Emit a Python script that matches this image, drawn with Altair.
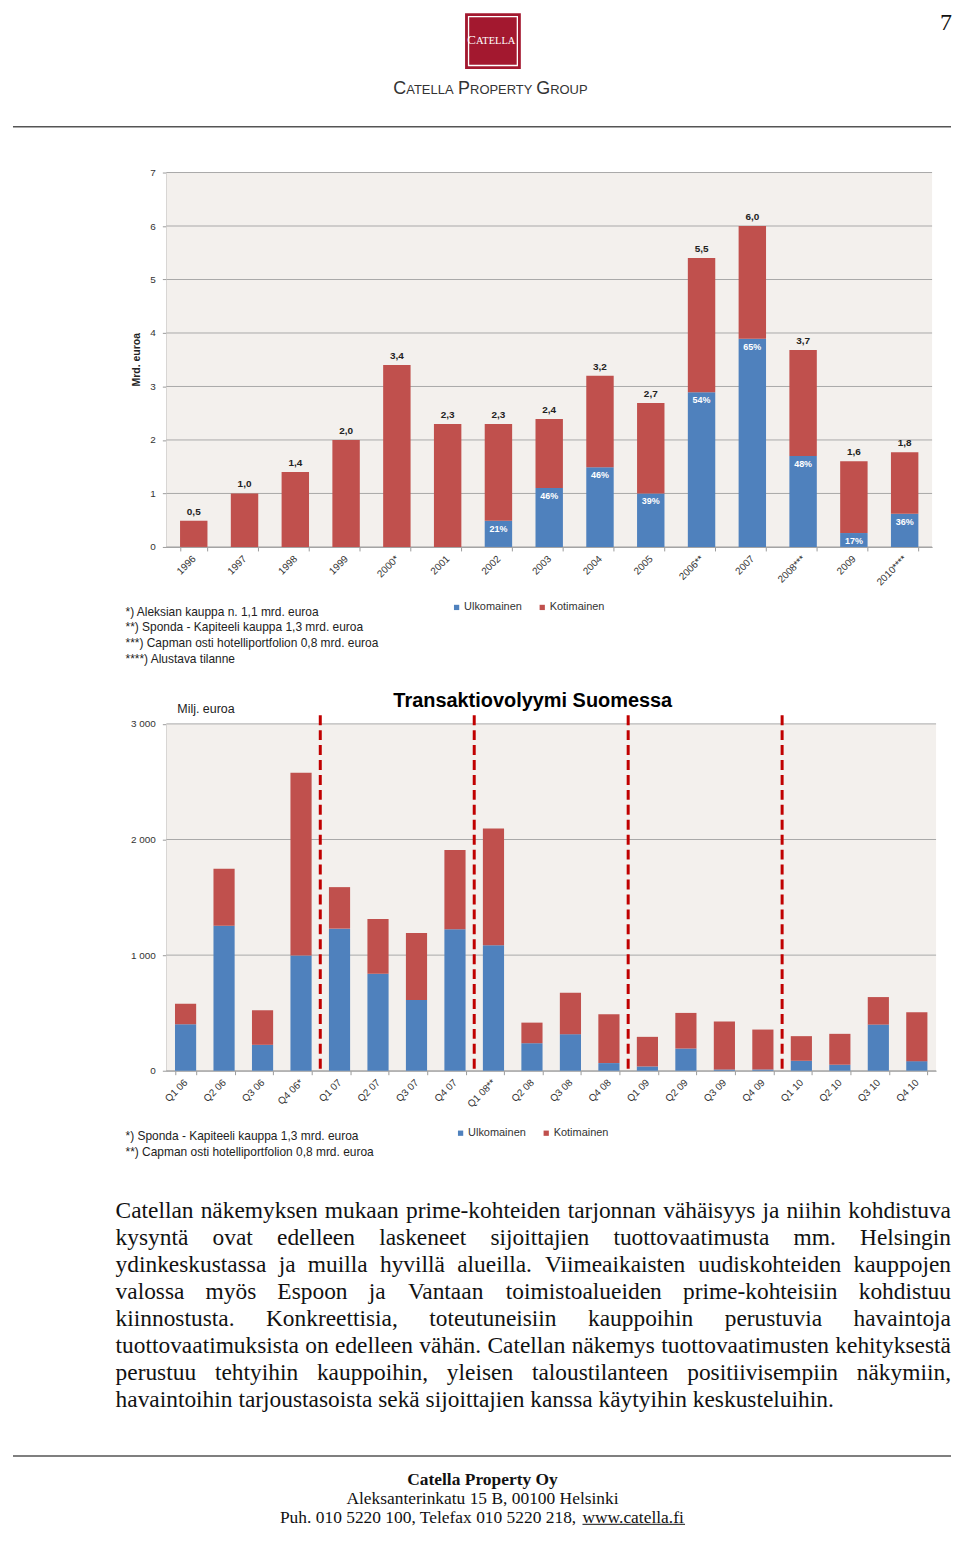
import altair as alt
import pandas as pd

# ---------------- data ----------------
series = ["Ulkomainen", "Kotimainen"]

years = ["1996", "1997", "1998", "1999", "2000*", "2001", "2002", "2003", "2004",
         "2005", "2006**", "2007", "2008***", "2009", "2010****"]
year_total = [0.49, 1.0, 1.40, 2.0, 3.40, 2.30, 2.30, 2.39, 3.20, 2.69, 5.40, 6.0, 3.68, 1.60, 1.77]
year_foreign = [0, 0, 0, 0, 0, 0, 0.49, 1.10, 1.49, 1.0, 2.89, 3.89, 1.70, 0.26, 0.62]
year_total_labels = ["0,5", "1,0", "1,4", "2,0", "3,4", "2,3", "2,3", "2,4", "3,2", "2,7",
                     "5,5", "6,0", "3,7", "1,6", "1,8"]
year_share_labels = ["", "", "", "", "", "", "21%", "46%", "46%", "39%", "54%", "65%",
                     "48%", "17%", "36%"]
year_ticks = [0, 1, 2, 3, 4, 5, 6, 7]

quarters = ["Q1 06", "Q2 06", "Q3 06", "Q4 06*", "Q1 07", "Q2 07", "Q3 07", "Q4 07",
            "Q1 08**", "Q2 08", "Q3 08", "Q4 08", "Q1 09", "Q2 09", "Q3 09", "Q4 09",
            "Q1 10", "Q2 10", "Q3 10", "Q4 10"]
quarter_total = [580, 1746, 523, 2578, 1588, 1312, 1191, 1909, 2096, 416, 675, 488,
                 293, 500, 425, 356, 299, 319, 637, 505]
quarter_foreign = [402, 1255, 224, 996, 1229, 838, 612, 1223, 1085, 238, 316, 66,
                   37, 192, 11, 11, 86, 52, 399, 83]
quarter_ticks = [0, 1000, 2000, 3000]
year_breaks = [4, 8, 12, 16]  # quarter index where a new year starts

notes1 = ["*) Aleksian kauppa n. 1,1 mrd. euroa",
          "**) Sponda - Kapiteeli kauppa 1,3 mrd. euroa",
          "***) Capman osti hotelliportfolion 0,8 mrd. euroa",
          "****) Alustava tilanne"]
notes2 = ["*) Sponda - Kapiteeli kauppa 1,3 mrd. euroa",
          "**) Capman osti hotelliportfolion 0,8 mrd. euroa"]

body_lines = [
    "Catellan näkemyksen mukaan prime-kohteiden tarjonnan vähäisyys ja niihin kohdistuva",
    "kysyntä ovat edelleen laskeneet sijoittajien tuottovaatimusta mm. Helsingin",
    "ydinkeskustassa ja muilla hyvillä alueilla. Viimeaikaisten uudiskohteiden kauppojen",
    "valossa myös Espoon ja Vantaan toimistoalueiden prime-kohteisiin kohdistuu",
    "kiinnostusta. Konkreettisia, toteutuneisiin kauppoihin perustuvia havaintoja",
    "tuottovaatimuksista on edelleen vähän. Catellan näkemys tuottovaatimusten kehityksestä",
    "perustuu tehtyihin kauppoihin, yleisen taloustilanteen positiivisempiin näkymiin,",
    "havaintoihin tarjoustasoista sekä sijoittajien kanssa käytyihin keskusteluihin.",
]
footer_name = "Catella Property Oy"
footer_addr = "Aleksanterinkatu 15 B, 00100 Helsinki"
footer_phone = "Puh. 010 5220 100, Telefax 010 5220 218, "
footer_url = "www.catella.fi"

# ---------------- styles ----------------
SANS = "Liberation Sans"
SERIF = "Liberation Serif"
BLUE = "#4f81bd"
RED = "#c0504d"
BG = "#f3f0ed"
GRID = "#a8a8a8"
AXIS = "#9a9a9a"
LOGO = "#a3182f"
W = 944
HA, HB, HC, HD = 120, 547, 495, 357

TIMES = {' ': 250, 'a': 444, 'b': 500, 'c': 444, 'd': 500, 'e': 444, 'f': 333, 'g': 500,
         'h': 500, 'i': 278, 'j': 278, 'k': 500, 'l': 278, 'm': 778, 'n': 500, 'o': 500,
         'p': 500, 'q': 500, 'r': 333, 's': 389, 't': 278, 'u': 500, 'v': 500, 'w': 722,
         'x': 500, 'y': 500, 'z': 444, 'ä': 444, 'ö': 500, 'A': 722, 'B': 667, 'C': 667,
         'D': 722, 'E': 611, 'F': 556, 'G': 722, 'H': 722, 'I': 333, 'J': 389, 'K': 722,
         'L': 611, 'M': 889, 'N': 722, 'O': 722, 'P': 556, 'R': 667, 'S': 556, 'T': 611,
         'U': 722, 'V': 722, 'W': 944, 'Y': 722, '.': 250, ',': 250, '-': 333}
ARIAL_CAPS = {' ': 278, 'A': 667, 'C': 722, 'E': 667, 'G': 778, 'L': 556, 'O': 778,
              'P': 667, 'R': 722, 'T': 611, 'U': 722, 'Y': 667}


def tw(s, table, fs):
    return sum(table.get(ch, 500) for ch in s) * fs / 1000.0


one = pd.DataFrame({"k": [0]})


def txt(text, x, y, size, font=SANS, weight="normal", color="#222", align="left",
        baseline="middle", angle=0):
    return alt.Chart(one).mark_text(
        text=text, font=font, fontSize=size, fontWeight=weight, color=color,
        align=align, baseline=baseline, angle=angle
    ).encode(x=alt.value(x), y=alt.value(y))


def legend_at(x, y):
    return alt.Legend(orient="none", legendX=x, legendY=y, direction="horizontal",
                      title=None, symbolType="square", symbolSize=28, symbolStrokeWidth=0,
                      labelFont=SANS, labelFontSize=11, labelColor="#333",
                      labelOffset=2, columnPadding=14, padding=0)


color_scale = alt.Scale(domain=series, range=[BLUE, RED])

# ---------------- panel A: header ----------------
caps_pieces = [("C", 18), ("ATELLA", 13), (" ", 13), ("P", 18), ("ROPERTY", 13),
               (" ", 13), ("G", 18), ("ROUP", 13)]
tot_w = sum(tw(p, ARIAL_CAPS, f) for p, f in caps_pieces)
cx = 480.5 - tot_w / 2
cap_rows = []
for p, f in caps_pieces:
    cap_rows.append({"p": p, "fs": f, "x": cx})
    cx += tw(p, ARIAL_CAPS, f)
caps_df = pd.DataFrame(cap_rows)

logo_pieces = [("C", 13), ("ATELLA", 10.5)]
lw = sum(tw(p, TIMES, f) for p, f in logo_pieces)
lx = 482 - lw / 2
logo_rows = []
for p, f in logo_pieces:
    logo_rows.append({"p": p, "fs": f, "x": lx})
    lx += tw(p, TIMES, f)
logo_df = pd.DataFrame(logo_rows)

panelA = alt.layer(
    alt.Chart(one).mark_rect(color=LOGO).encode(
        x=alt.value(455), x2=alt.value(511), y=alt.value(0), y2=alt.value(56)),
    alt.Chart(one).mark_rect(filled=False, stroke="white", strokeWidth=1.3).encode(
        x=alt.value(458.5), x2=alt.value(507.5), y=alt.value(3.5), y2=alt.value(52.5)),
    alt.Chart(logo_df).mark_text(font=SERIF, color="white", align="left",
                                 baseline="alphabetic").encode(
        x=alt.X("x:Q", scale=None, axis=None), y=alt.value(31),
        size=alt.Size("fs:Q", scale=None, legend=None), text="p:N"),
    alt.Chart(caps_df).mark_text(font=SANS, color="#333", align="left",
                                 baseline="alphabetic").encode(
        x=alt.X("x:Q", scale=None, axis=None), y=alt.value(81),
        size=alt.Size("fs:Q", scale=None, legend=None), text="p:N"),
    txt("7", 944, 17, 24, font=SERIF, color="#111", align="right", baseline="alphabetic"),
    alt.Chart(one).mark_rule(color="#555", strokeWidth=1.5).encode(
        x=alt.value(1), x2=alt.value(943), y=alt.value(114)),
).properties(width=W, height=HA)

# ---------------- panel B: yearly chart ----------------
rows1 = []
for yr, tot, fo in zip(years, year_total, year_foreign):
    rows1.append({"year": yr, "series": "Ulkomainen", "lo": 0, "hi": fo})
    rows1.append({"year": yr, "series": "Kotimainen", "lo": fo, "hi": tot})
df1 = pd.DataFrame(rows1)
lab1 = pd.DataFrame({"year": years, "total": year_total, "foreign": year_foreign,
                     "tl": year_total_labels, "sl": year_share_labels})
share1 = lab1[lab1["sl"] != ""]

B_TOP, B_BOT, B_L, B_R = 40, 416, 155, 924
x1 = alt.Scale(domain=years, range=[B_L, B_R], paddingInner=0.46, paddingOuter=0.27)
y1 = alt.Scale(domain=[0, 7], range=[B_BOT, B_TOP], nice=False)

x1_axis = alt.Axis(orient="bottom", offset=-(HB - B_BOT), title=None, labelAngle=315,
                   labelAlign="right", labelBaseline="middle", labelFont=SANS,
                   labelFontSize=10, labelColor="#333", labelPadding=6, tickBand="extent",
                   tickSize=4, tickColor=AXIS, domainColor=AXIS, grid=False,
                   labelOverlap=False)
y1_axis = alt.Axis(orient="left", offset=-B_L, values=year_ticks, title=None, grid=False,
                   labelFont=SANS, labelFontSize=10, labelColor="#333", tickSize=4,
                   tickColor=AXIS, domainColor=AXIS, domainWidth=1.5, labelPadding=7)

panelB = alt.layer(
    alt.Chart(one).mark_rect(color=BG).encode(
        x=alt.value(B_L), x2=alt.value(B_R), y=alt.value(B_TOP), y2=alt.value(B_BOT)),
    alt.Chart(pd.DataFrame({"v": year_ticks})).mark_rule(color=GRID, strokeWidth=1).encode(
        y=alt.Y("v:Q", scale=y1, axis=y1_axis), x=alt.value(B_L), x2=alt.value(B_R)),
    alt.Chart(df1).mark_bar().encode(
        x=alt.X("year:N", scale=x1, axis=x1_axis),
        y=alt.Y("hi:Q", scale=y1, axis=y1_axis), y2="lo:Q",
        color=alt.Color("series:N", scale=color_scale, legend=legend_at(441, 471))),
    alt.Chart(lab1).mark_text(font=SANS, fontSize=10, fontWeight="bold", color="#222",
                              baseline="middle", dy=-9).encode(
        x=alt.X("year:N", scale=x1, axis=x1_axis), y=alt.Y("total:Q", scale=y1, axis=y1_axis),
        text="tl:N"),
    alt.Chart(share1).mark_text(font=SANS, fontSize=9, fontWeight="bold", color="white",
                                baseline="middle", dy=8).encode(
        x=alt.X("year:N", scale=x1, axis=x1_axis), y=alt.Y("foreign:Q", scale=y1, axis=y1_axis),
        text="sl:N"),
    txt("Mrd. euroa", 126, 228, 10.5, weight="bold", color="#222", align="center",
        angle=270),
    *[txt(n, 114, 481 + i * 15.7, 12) for i, n in enumerate(notes1)],
).properties(width=W, height=HB)

# ---------------- panel C: quarterly chart ----------------
rows2 = []
for q, tot, fo in zip(quarters, quarter_total, quarter_foreign):
    rows2.append({"q": q, "series": "Ulkomainen", "lo": 0, "hi": fo})
    rows2.append({"q": q, "series": "Kotimainen", "lo": fo, "hi": tot})
df2 = pd.DataFrame(rows2)

C_TOP, C_BOT, C_L, C_R = 46.7, 395, 155, 928
x2 = alt.Scale(domain=quarters, range=[C_L, C_R], paddingInner=0.45, paddingOuter=0.225)
y2 = alt.Scale(domain=[0, 3000], range=[C_BOT, C_TOP], nice=False)

x2_axis = alt.Axis(orient="bottom", offset=-(HC - C_BOT), title=None, labelAngle=315,
                   labelAlign="right", labelBaseline="middle", labelFont=SANS,
                   labelFontSize=10, labelColor="#333", labelPadding=6, tickBand="extent",
                   tickSize=4, tickColor=AXIS, domainColor=AXIS, grid=False,
                   labelOverlap=False)
y2_axis = alt.Axis(orient="left", offset=-C_L, values=quarter_ticks, title=None, grid=False,
                   labelExpr="replace(format(datum.value, ','), ',', ' ')",
                   labelFont=SANS, labelFontSize=10, labelColor="#333", tickSize=4,
                   tickColor=AXIS, domainColor=AXIS, domainWidth=1.5, labelPadding=7)

panelC = alt.layer(
    alt.Chart(one).mark_rect(color=BG).encode(
        x=alt.value(C_L), x2=alt.value(C_R), y=alt.value(C_TOP), y2=alt.value(C_BOT)),
    alt.Chart(pd.DataFrame({"v": quarter_ticks})).mark_rule(color=GRID, strokeWidth=1).encode(
        y=alt.Y("v:Q", scale=y2, axis=y2_axis), x=alt.value(C_L), x2=alt.value(C_R)),
    alt.Chart(df2).mark_bar().encode(
        x=alt.X("q:N", scale=x2, axis=x2_axis),
        y=alt.Y("hi:Q", scale=y2, axis=y2_axis), y2="lo:Q",
        color=alt.Color("series:N", scale=color_scale, legend=legend_at(445, 452))),
    alt.Chart(pd.DataFrame({"b": year_breaks})).mark_rule(
        color="#c00000", strokeWidth=3, strokeDash=[10, 5]).encode(
        x=alt.X("b:Q", scale=alt.Scale(domain=[0, len(quarters)], range=[C_L, C_R]),
                axis=None),
        y=alt.value(38), y2=alt.value(C_BOT)),
    txt("Transaktiovolyymi Suomessa", 523, 24, 20, weight="bold", color="#000",
        align="center"),
    txt("Milj. euroa", 166, 32, 12.5, color="#222"),
    *[txt(n, 114, 461 + i * 15.5, 12) for i, n in enumerate(notes2)],
).resolve_scale(x="independent").properties(width=W, height=HC)

# ---------------- panel D: body text + footer ----------------
FS = 23.5
LEFT, RIGHT = 104, 943
word_rows = []
for i, line in enumerate(body_lines):
    words = line.split()
    widths = [tw(w, TIMES, FS) for w in words]
    if i == len(body_lines) - 1:
        gap = tw(" ", TIMES, FS)
    else:
        gap = (RIGHT - LEFT - sum(widths)) / (len(words) - 1)
    x = LEFT
    for w, wd in zip(words, widths):
        word_rows.append({"w": w, "x": x + wd / 2, "y": 48 + i * 27.1})
        x += wd + gap
words_df = pd.DataFrame(word_rows)

FFS = 17.5
FC = 472.5
pw = tw(footer_phone, TIMES, FFS)
uw = tw(footer_url, TIMES, FFS)
fstart = FC - (pw + uw) / 2

panelD = alt.layer(
    alt.Chart(words_df).mark_text(font=SERIF, fontSize=FS, color="#111", align="center",
                                  baseline="alphabetic").encode(
        x=alt.X("x:Q", scale=None, axis=None), y=alt.Y("y:Q", scale=None, axis=None),
        text="w:N"),
    alt.Chart(one).mark_rule(color="#555", strokeWidth=1.5).encode(
        x=alt.value(1), x2=alt.value(943), y=alt.value(287)),
    txt(footer_name, FC, 316, FFS, font=SERIF, weight="bold", color="#111",
        align="center", baseline="alphabetic"),
    txt(footer_addr, FC, 335, FFS, font=SERIF, color="#111", align="center",
        baseline="alphabetic"),
    txt(footer_phone, fstart, 354, FFS, font=SERIF, color="#111", baseline="alphabetic"),
    txt(footer_url, fstart + pw, 354, FFS, font=SERIF, color="#111", baseline="alphabetic"),
    alt.Chart(one).mark_rule(color="#111", strokeWidth=1).encode(
        x=alt.value(fstart + pw), x2=alt.value(fstart + pw + uw), y=alt.value(355.5)),
).properties(width=W, height=HD)

chart = alt.vconcat(panelA, panelB, panelC, panelD, spacing=0, bounds="flush").resolve_scale(
    color="independent").resolve_legend(color="independent").properties(
    padding=0, background="white").configure_view(stroke=None)

chart.save("out.html", embed_options={"renderer": "svg", "actions": False})
